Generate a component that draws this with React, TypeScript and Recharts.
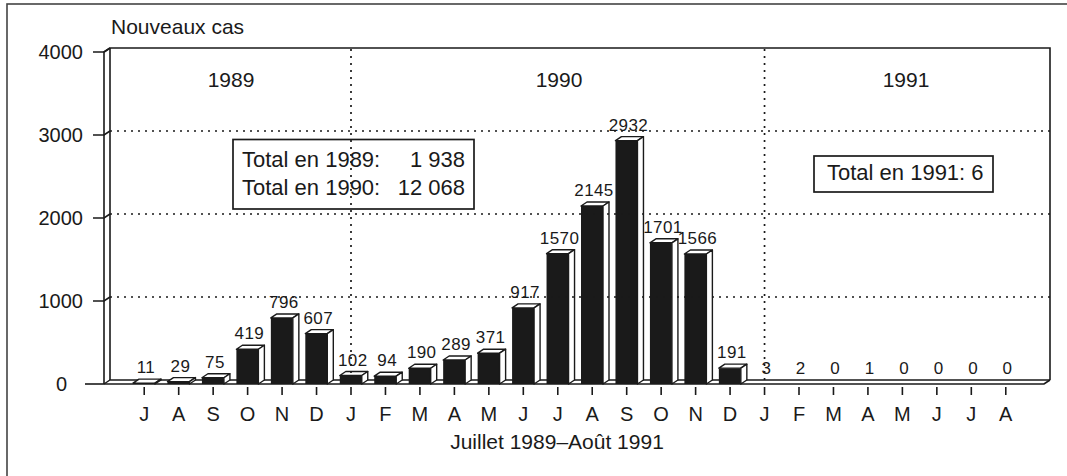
import React from "react";
import { BarChart, Bar, XAxis, YAxis, ReferenceLine, LabelList } from "recharts";

// ---- data ----
const months = ["J", "A", "S", "O", "N", "D", "J", "F", "M", "A", "M", "J", "J", "A", "S", "O", "N", "D", "J", "F", "M", "A", "M", "J", "J", "A"];
const cases = [11, 29, 75, 419, 796, 607, 102, 94, 190, 289, 371, 917, 1570, 2145, 2932, 1701, 1566, 191, 3, 2, 0, 1, 0, 0, 0, 0];
const yTicks = [0, 1000, 2000, 3000, 4000];
const gridValues = [1000, 2000, 3000];
const yearStartIndex = [6, 18];
const years = ["1989", "1990", "1991"];
const totalRows = [["Total en 1989:", "1 938"], ["Total en 1990:", "12 068"]];
const total1991 = "Total en 1991: 6";
const yLabel = "Nouveaux cas";
const xLabel = "Juillet 1989\u2013Août 1991";

const data = months.map((m, i) => ({ key: String(i), month: m, cases: cases[i] }));

// ---- layout ----
const W = 1067;
const H = 476;
const PL = 104;
const PR = 1044;
const PT = 52;
const PB = 384;
const DX = 6;
const DY = -4;
const INK = "#1a1a1a";
const FONT = "'Liberation Sans', Arial, Helvetica, sans-serif";

function Bar3D(props: any) {
  const { x, y, width, height, payload } = props;
  if (!payload || payload.cases < 5) return <g />;
  const x2 = x + width;
  const yb = y + height;
  return (
    <g>
      <rect x={x} y={y} width={width} height={Math.max(height, 0.8)} fill={INK} />
      <polygon
        points={`${x},${y} ${x + DX},${y + DY} ${x2 + DX},${y + DY} ${x2},${y}`}
        fill="#fff"
        stroke={INK}
        strokeWidth={1.4}
        strokeLinejoin="round"
      />
      <polygon
        points={`${x2},${y} ${x2 + DX},${y + DY} ${x2 + DX},${yb + DY} ${x2},${yb}`}
        fill="#fff"
        stroke={INK}
        strokeWidth={1.4}
        strokeLinejoin="round"
      />
    </g>
  );
}

function ValueLabel(props: any) {
  const vb = props.viewBox && props.viewBox.x !== undefined ? props.viewBox : props;
  const { x, y, width } = vb;
  if (x === undefined) return null;
  return (
    <text
      x={x + width / 2 + 2}
      y={y - 10}
      textAnchor="middle"
      fontSize={17}
      letterSpacing={0.4}
      fill={INK}
      fontFamily={FONT}
    >
      {props.value}
    </text>
  );
}

function YTick(props: any) {
  const { y, payload } = props;
  const v = payload.value;
  if (v === 0) {
    return (
      <g>
        <line x1={85} y1={y} x2={PL} y2={y} stroke={INK} strokeWidth={1.6} />
        <text x={67} y={y + 7} textAnchor="end" fontSize={20} fill={INK} fontFamily={FONT}>
          0
        </text>
      </g>
    );
  }
  return (
    <g>
      <path d={`M93,${y} L${PL},${y} L${PL + DX},${y + DY}`} fill="none" stroke={INK} strokeWidth={1.6} />
      <text x={83} y={y + 7} textAnchor="end" fontSize={20} fill={INK} fontFamily={FONT}>
        {v}
      </text>
    </g>
  );
}

function XTick(props: any) {
  const { x, payload } = props;
  const m = months[Number(payload.value)];
  return (
    <g>
      <line x1={x} y1={PB + 3} x2={x} y2={PB + 11} stroke={INK} strokeWidth={1.6} />
      <text x={x} y={421} textAnchor="middle" fontSize={20} fill={INK} fontFamily={FONT}>
        {m}
      </text>
    </g>
  );
}

function BackGridLine(props: any) {
  const { x1, y1, x2, y2 } = props;
  return (
    <line
      x1={x1 + DX}
      y1={y1 + DY}
      x2={x2 + DX}
      y2={y2 + DY}
      stroke={INK}
      strokeWidth={1.7}
      strokeDasharray="2 5"
    />
  );
}

function BackVerticalLine(props: any) {
  const { x1, y1, x2, y2 } = props;
  return (
    <line
      x1={x1}
      y1={y1 + DY}
      x2={x2}
      y2={y2 + DY}
      stroke={INK}
      strokeWidth={1.7}
      strokeDasharray="2 5"
    />
  );
}

function Background() {
  const t = { fill: INK, fontFamily: FONT } as const;
  return (
    <svg width={W} height={H} style={{ position: "absolute", left: 0, top: 0 }}>
      <rect x={0} y={0} width={W} height={H} fill="#fff" />
      <rect x={7} y={4} width={W + 20} height={H + 20} fill="none" stroke="#444" strokeWidth={1.6} />
      {/* walls */}
      <path
        d={`M${PL},${PB} L${PL},${PT} L${PL + DX},${PT + DY} L${PR + DX},${PT + DY} L${PR + DX},${PB + DY}`}
        fill="none"
        stroke={INK}
        strokeWidth={1.6}
      />
      <line x1={PL + DX} y1={PT + DY} x2={PL + DX} y2={PB + DY} stroke={INK} strokeWidth={1.6} />
      {/* floor */}
      <path d={`M${PL},${PB} L${PR},${PB} L${PR + DX},${PB + DY}`} fill="none" stroke={INK} strokeWidth={1.7} />
      <path d={`M${PL},${PB} L${PL + DX},${PB + DY} L${PR + DX},${PB + DY}`} fill="none" stroke={INK} strokeWidth={1.3} />
      {/* titles */}
      <text x={111} y={34} fontSize={21} {...t}>{yLabel}</text>
      <text x={557} y={449} fontSize={21} textAnchor="middle" {...t}>{xLabel}</text>
      <text x={231} y={87} fontSize={21} textAnchor="middle" {...t}>{years[0]}</text>
      <text x={559} y={87} fontSize={21} textAnchor="middle" {...t}>{years[1]}</text>
      <text x={906} y={87} fontSize={21} textAnchor="middle" {...t}>{years[2]}</text>
      {/* boxes */}
      <rect x={233} y={139.5} width={241} height={69.5} fill="#fff" stroke={INK} strokeWidth={1.7} />
      {totalRows.map((r, i) => (
        <g key={i}>
          <text x={242} y={167 + i * 28} fontSize={22} {...t}>{r[0]}</text>
          <text x={465} y={167 + i * 28} fontSize={22} textAnchor="end" {...t}>{r[1]}</text>
        </g>
      ))}
      <rect x={814} y={156} width={179} height={36} fill="#fff" stroke={INK} strokeWidth={1.7} />
      <text x={827} y={180} fontSize={22} {...t}>{total1991}</text>
    </svg>
  );
}

export default function App() {
  return (
    <div style={{ position: "absolute", left: 0, top: 0, width: W, height: H, overflow: "hidden" }}>
      <Background />
      <div style={{ position: "absolute", left: 0, top: 0 }}>
        <BarChart
          width={W}
          height={H}
          data={data}
          margin={{ top: PT, right: W - PR, bottom: H - PB - 40, left: 0 }}
        >
          <XAxis
            dataKey="key"
            type="category"
            axisLine={false}
            tickLine={false}
            interval={0}
            height={40}
            padding={{ left: 23, right: 21 }}
            tick={<XTick />}
          />
          <YAxis
            domain={[0, 4000]}
            ticks={yTicks}
            interval={0}
            width={PL}
            axisLine={false}
            tickLine={false}
            tick={<YTick />}
          />
          {gridValues.map((v) => (
            <ReferenceLine key={v} y={v} shape={BackGridLine} />
          ))}
          {yearStartIndex.map((i) => (
            <ReferenceLine key={"v" + i} x={String(i)} shape={BackVerticalLine} />
          ))}
          <Bar dataKey="cases" barSize={22} shape={Bar3D} isAnimationActive={false}>
            <LabelList dataKey="cases" content={ValueLabel} />
          </Bar>
        </BarChart>
      </div>
    </div>
  );
}
